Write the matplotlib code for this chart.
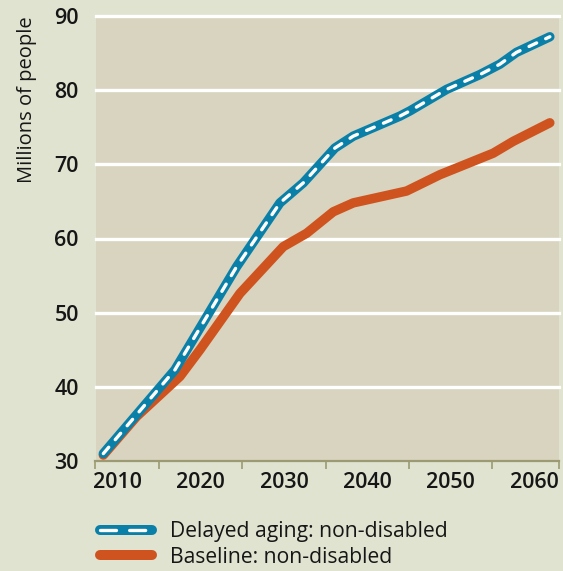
import matplotlib
matplotlib.use("Agg")
import matplotlib.pyplot as plt
from matplotlib.lines import Line2D

plt.rcParams['font.family'] = ['Open Sans', 'DejaVu Sans']
plt.rcParams['lines.scale_dashes'] = False

# ---- data ----
delayed_years = [2008.3, 2016.9, 2024.3, 2029.5, 2032.3, 2036.1, 2038.3, 2043.9,
                 2045.1, 2049.5, 2053.5, 2055.9, 2057.9, 2061.9]
delayed_vals = [31.0, 42.3, 56.2, 64.8, 67.5, 72.2, 73.8, 76.5,
                77.2, 80.1, 82.1, 83.5, 85.1, 87.2]

baseline_years = [2008.3, 2012.3, 2017.5, 2019.9, 2024.7, 2029.9, 2032.7, 2035.9,
                  2038.3, 2044.7, 2048.7, 2055.1, 2057.5, 2061.9]
baseline_vals = [30.8, 36.0, 41.4, 45.0, 52.6, 58.9, 60.7, 63.6,
                 64.8, 66.4, 68.6, 71.5, 73.1, 75.6]

x_labels = [2010, 2020, 2030, 2040, 2050, 2060]
x_minor = [2015, 2025, 2035, 2045, 2055]
y_ticks = [30, 40, 50, 60, 70, 80, 90]
series_names = ["Delayed aging: non-disabled", "Baseline: non-disabled"]

# ---- style ----
BLUE = "#0a80a8"
ORANGE = "#cf531f"
PLOT_BG = "#d9d4bf"
FIG_BG = "#dfe3cf"
AXIS_C = "#9b9a72"
TEXT_C = "#161616"

W, H = 563, 571
fig = plt.figure(figsize=(W / 100, H / 100), dpi=100, facecolor=FIG_BG)
left, right, top, bottom = 95.5, 559, 16, 461
ax = fig.add_axes([left / W, 1 - bottom / H, (right - left) / W, (bottom - top) / H])
ax.set_facecolor(PLOT_BG)

xmin, xmax = 2007.36, 2063.0
ax.set_xlim(xmin, xmax)
ax.set_ylim(30, 90)

for s in ['top', 'right', 'left']:
    ax.spines[s].set_visible(False)
ax.spines['bottom'].set_color(AXIS_C)
ax.spines['bottom'].set_linewidth(1.6)

for v in y_ticks[1:]:
    ax.axhline(v, color='white', lw=2.4, clip_on=False, zorder=1)

# lines
lw_main = 6.8
ax.plot(baseline_years, baseline_vals, color=ORANGE, lw=lw_main,
        solid_capstyle='round', solid_joinstyle='round', zorder=3)
ax.plot(delayed_years, delayed_vals, color=BLUE, lw=lw_main,
        solid_capstyle='round', solid_joinstyle='round', zorder=4)
ax.plot(delayed_years, delayed_vals, color='white', lw=2.4,
        dashes=(6.0, 7.2), dash_capstyle='round', zorder=5)

# ticks
tick_font = dict(family=['Open Sans', 'DejaVu Sans'], weight='semibold', size=15.5)
ax.set_yticks(y_ticks)
ax.set_yticklabels([str(v) for v in y_ticks], fontdict=tick_font)
ax.tick_params(axis='y', length=0, pad=12, labelcolor=TEXT_C)
ax.set_xticks(x_labels)
ax.set_xticklabels([str(v) for v in x_labels], fontdict=tick_font)
ax.tick_params(axis='x', which='major', length=0, pad=8, labelcolor=TEXT_C)
ax.set_xticks([xmin] + x_minor + [xmax], minor=True)
ax.tick_params(axis='x', which='minor', length=5.5, width=1.2, color=AXIS_C, direction='out')

ax.set_ylabel("Millions of people", fontsize=14.5, color=TEXT_C, loc='top')
ax.yaxis.set_label_coords(-(left - 37) / (right - left), 1.0)

# legend
h1 = (Line2D([], [], color=BLUE, lw=7.2, solid_capstyle='round'),
      Line2D([], [], color='white', lw=2.4, dashes=(11.5, 9.5), dash_capstyle='round'))
h2 = Line2D([], [], color=ORANGE, lw=7.2, solid_capstyle='round')
leg = fig.legend([h1, h2], series_names, loc='upper left',
                 bbox_to_anchor=(100 / W, 1 - 521 / H), frameon=False,
                 fontsize=15.2, handlelength=2.45, handletextpad=0.85,
                 labelspacing=0.22, borderpad=0, borderaxespad=0)
for t in leg.get_texts():
    t.set_color(TEXT_C)

fig.savefig("out.png", dpi=100, facecolor=FIG_BG)
